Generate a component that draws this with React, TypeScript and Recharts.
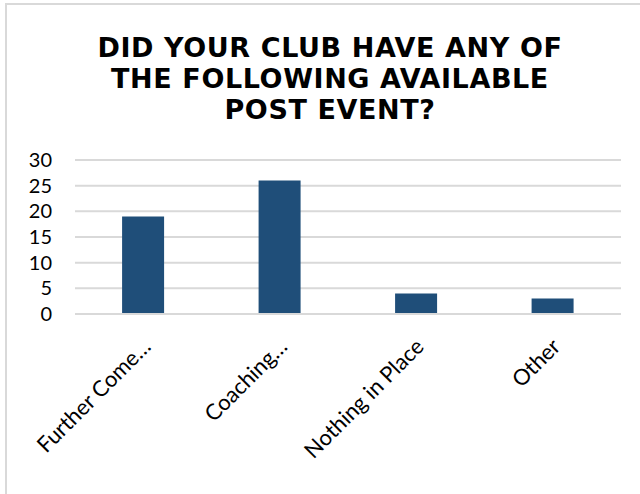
import React from "react";
import { BarChart, Bar, XAxis, YAxis, CartesianGrid } from "recharts";

const categories = ["Further Come…", "Coaching…", "Nothing in Place", "Other"];
const counts = [19, 26, 4, 3];
const yTicks = [0, 5, 10, 15, 20, 25, 30];
const titleLines = ["DID YOUR CLUB HAVE ANY OF", "THE FOLLOWING AVAILABLE", "POST EVENT?"];

const data = categories.map((name, i) => ({ name, value: counts[i] }));

const FONT = "Lato, 'Open Sans', sans-serif";

const XTick = (props: any) => {
  const { x, y, payload } = props;
  return (
    <g transform={`translate(${x + 9},${y + 26}) rotate(-45)`}>
      <text x={0} y={0} textAnchor="end" fill="#000" fontSize={22} fontFamily={FONT}>
        {payload.value}
      </text>
    </g>
  );
};

export default function App() {
  return (
    <div
      style={{
        position: "absolute",
        left: 0,
        top: 0,
        width: 640,
        height: 494,
        overflow: "hidden",
        background: "#fff",
      }}
    >
      <div
        style={{
          position: "absolute",
          left: 5,
          top: 3,
          width: 800,
          height: 700,
          border: "2px solid #d9d9d9",
          boxSizing: "border-box",
        }}
      />
      <div
        style={{
          position: "absolute",
          left: 20,
          top: 32,
          width: 620,
          textAlign: "center",
          fontFamily: "'DejaVu Sans', sans-serif",
          fontWeight: 700,
          fontSize: 27,
          letterSpacing: 0.6,
          lineHeight: "31px",
          color: "#000",
        }}
      >
        {titleLines.map((l) => (
          <div key={l}>{l}</div>
        ))}
      </div>
      <div style={{ position: "absolute", left: 0, top: 0 }}>
        <BarChart
          width={640}
          height={494}
          data={data}
          margin={{ top: 160, right: 19, bottom: 0, left: 0 }}
          barCategoryGap="34.5%"
        >
          <CartesianGrid vertical={false} stroke="#d9d9d9" strokeWidth={2} />
          <XAxis
            dataKey="name"
            height={180}
            interval={0}
            axisLine={{ stroke: "#d9d9d9", strokeWidth: 2 }}
            tickLine={false}
            tick={<XTick />}
          />
          <YAxis
            width={75}
            domain={[0, 30]}
            ticks={yTicks}
            interval={0}
            axisLine={false}
            tickLine={false}
            tickSize={0}
            tickMargin={23}
            tick={{ fill: "#000", fontSize: 20, fontFamily: FONT }}
          />
          <Bar dataKey="value" fill="#1F4E79" isAnimationActive={false} />
        </BarChart>
      </div>
    </div>
  );
}
